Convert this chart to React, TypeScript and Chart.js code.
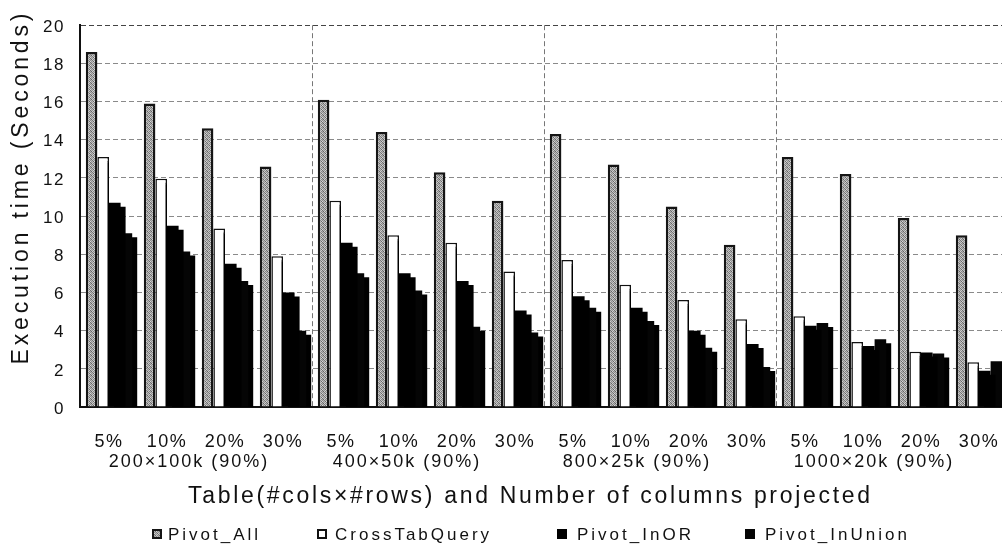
import React, { useEffect, useRef } from 'react';
import { Chart, registerables } from 'chart.js';

Chart.register(...registerables);

// ---- data ----
const pctLabels = ['5%', '10%', '20%', '30%', '5%', '10%', '20%', '30%', '5%', '10%', '20%', '30%', '5%', '10%', '20%', '30%'];
const groupLabels = ['200×100k (90%)', '400×50k (90%)', '800×25k (90%)', '1000×20k (90%)'];
const seriesNames = ['Pivot_All', 'CrossTabQuery', 'Pivot_InOR', 'Pivot_InUnion'];
const pivotAll = [18.6, 15.9, 14.6, 12.6, 16.1, 14.4, 12.3, 10.8, 14.3, 12.7, 10.5, 8.5, 13.1, 12.2, 9.9, 9.0];
const crossTab = [13.1, 11.95, 9.35, 7.9, 10.8, 9.0, 8.6, 7.1, 7.7, 6.4, 5.6, 4.6, 4.75, 3.4, 2.9, 2.35];
const pivotInOR = [10.7, 9.5, 7.5, 6.0, 8.6, 7.0, 6.6, 5.05, 5.8, 5.2, 4.0, 3.3, 4.25, 3.2, 2.85, 1.9];
const pivotInUnion = [9.1, 8.15, 6.6, 4.0, 7.0, 6.1, 4.2, 3.9, 5.2, 4.5, 3.1, 2.1, 4.4, 3.55, 2.8, 2.4];
const yMin = 0;
const yMax = 20;
const yStep = 2;
const xTitle = 'Table(#cols×#rows) and Number of columns projected';
const yTitle = 'Execution time (Seconds)';

const FONT = '"Liberation Sans", Arial, sans-serif';

function drawSpaced(ctx: CanvasRenderingContext2D, text: string, cx: number, baseY: number, targetW: number, font: string) {
  ctx.font = font;
  (ctx as any).letterSpacing = '0px';
  const w0 = ctx.measureText(text).width;
  const s = (targetW - w0) / (text.length - 1);
  (ctx as any).letterSpacing = s + 'px';
  ctx.textAlign = 'center';
  ctx.textBaseline = 'alphabetic';
  ctx.fillText(text, cx + s / 2, baseY);
}

export default function App() {
  const ref = useRef<HTMLCanvasElement>(null);

  useEffect(() => {
    const canvas = ref.current!;
    const pc = document.createElement('canvas');
    pc.width = 4;
    pc.height = 4;
    const pctx = pc.getContext('2d')!;
    const shades = ['#7a7a7a', '#c4c4c4', '#8c8c8c', '#b8b8b8', '#bcbcbc', '#686868', '#d6d6d6', '#909090', '#969696', '#cecece', '#707070', '#bababa', '#d0d0d0', '#868686', '#b0b0b0', '#646464'];
    shades.forEach((c, i) => {
      pctx.fillStyle = c;
      pctx.fillRect(i % 4, Math.floor(i / 4), 1, 1);
    });
    const pattern = canvas.getContext('2d')!.createPattern(pc, 'repeat')!;

    const groupShift = [-7, -21, -23, -18];

    const shadowPlugin = {
      id: 'barShadow',
      beforeDatasetDraw(chart: any, args: any) {
        if (args.index === 0) return;
        const c = chart.ctx;
        c.shadowColor = '#000';
        c.shadowOffsetX = 5;
        c.shadowOffsetY = 4;
        c.shadowBlur = 0;
      },
      afterDatasetDraw(chart: any) {
        const c = chart.ctx;
        c.shadowColor = 'rgba(0,0,0,0)';
        c.shadowOffsetX = 0;
        c.shadowOffsetY = 0;
      },
    };

    const textPlugin = {
      id: 'texts',
      beforeUpdate(chart: any) {
        chart.ctx.letterSpacing = '1.5px';
      },
      beforeDraw(chart: any) {
        chart.ctx.letterSpacing = '1.5px';
      },
      afterDraw(chart: any) {
        const ctx: CanvasRenderingContext2D = chart.ctx;
        const xs = chart.scales.x;
        ctx.save();
        ctx.fillStyle = '#111';
        // group labels
        ctx.font = '18px ' + FONT;
        (ctx as any).letterSpacing = '2px';
        ctx.textAlign = 'center';
        ctx.textBaseline = 'alphabetic';
        groupLabels.forEach((g, i) => {
          const cx = (xs.getPixelForValue(4 * i + 1) + xs.getPixelForValue(4 * i + 2)) / 2 + groupShift[i];
          ctx.fillText(g, cx, 466.5);
        });
        // x title
        drawSpaced(ctx, xTitle, 529, 503, 682, '23px ' + FONT);
        // y title
        ctx.save();
        ctx.translate(28, 189);
        ctx.rotate(-Math.PI / 2);
        drawSpaced(ctx, yTitle, 0, 0, 351, '23px ' + FONT);
        ctx.restore();
        // legend
        const boxX = [152, 317, 557, 745];
        const textX = [168, 335, 577, 765];
        ctx.font = '17px ' + FONT;
        (ctx as any).letterSpacing = '3px';
        ctx.textAlign = 'left';
        ctx.textBaseline = 'alphabetic';
        chart.data.datasets.forEach((ds: any, i: number) => {
          const bx = boxX[i];
          const by = 529;
          ctx.fillStyle = ds.borderColor || ds.backgroundColor;
          ctx.fillRect(bx, by, 10, 10);
          if (ds.borderWidth) {
            ctx.fillStyle = ds.backgroundColor;
            ctx.fillRect(bx + 2, by + 2, 6, 6);
          }
          ctx.fillStyle = '#111';
          ctx.fillText(ds.label, textX[i], 540);
        });
        ctx.restore();
      },
    };

    const chart = new Chart(canvas, {
      type: 'bar',
      data: {
        labels: pctLabels,
        datasets: [
          { label: seriesNames[0], data: pivotAll, backgroundColor: pattern as any, borderColor: '#151515', borderWidth: 2.5, clip: 0 as any },
          { label: seriesNames[1], data: crossTab, backgroundColor: '#ffffff', borderColor: '#111', borderWidth: 1.5, clip: 0 as any },
          { label: seriesNames[2], data: pivotInOR, backgroundColor: '#000000', borderWidth: 0, clip: 0 as any },
          { label: seriesNames[3], data: pivotInUnion, backgroundColor: '#050505', borderWidth: 0, clip: 0 as any },
        ],
      },
      options: {
        responsive: false,
        animation: false,
        devicePixelRatio: 1,
        events: [],
        layout: { padding: { left: 0, right: 22, top: 14, bottom: 0 } },
        datasets: { bar: { categoryPercentage: 0.8, barPercentage: 1.0 } },
        plugins: { legend: { display: false }, tooltip: { enabled: false } },
        scales: {
          x: {
            offset: true,
            grid: {
              offset: true,
              drawTicks: false,
              lineWidth: 1,
              color: (c: any) => (c.index % 4 === 0 && c.index > 0 ? '#777' : 'rgba(0,0,0,0)'),
            },
            border: { display: true, color: '#111', width: 2, dash: [5, 3] },
            ticks: { color: '#111', font: { family: FONT, size: 18 }, padding: 24, maxRotation: 0, autoSkip: false },
            afterFit: (s: any) => {
              s.height = 152;
            },
          },
          y: {
            min: yMin,
            max: yMax,
            grid: {
              drawTicks: false,
              lineWidth: 1,
              color: (c: any) => (c.tick && c.tick.value === yMax ? '#444' : c.tick && c.tick.value === 0 ? 'rgba(0,0,0,0)' : '#8a8a8a'),
            },
            border: { display: true, color: '#111', width: 2, dash: [5, 3] },
            ticks: { stepSize: yStep, color: '#111', font: { family: FONT, size: 17 }, padding: 15, labelOffset: 2 },
            afterFit: (s: any) => {
              s.width = 80;
            },
          },
        },
      },
      plugins: [shadowPlugin, textPlugin],
    });
    return () => chart.destroy();
  }, []);

  return (
    <div style={{ position: 'fixed', left: 0, top: 0, width: 1002, height: 559, overflow: 'hidden', background: '#fff' }}>
      <canvas ref={ref} width={1030} height={559} style={{ width: 1030, height: 559, display: 'block' }} />
    </div>
  );
}
